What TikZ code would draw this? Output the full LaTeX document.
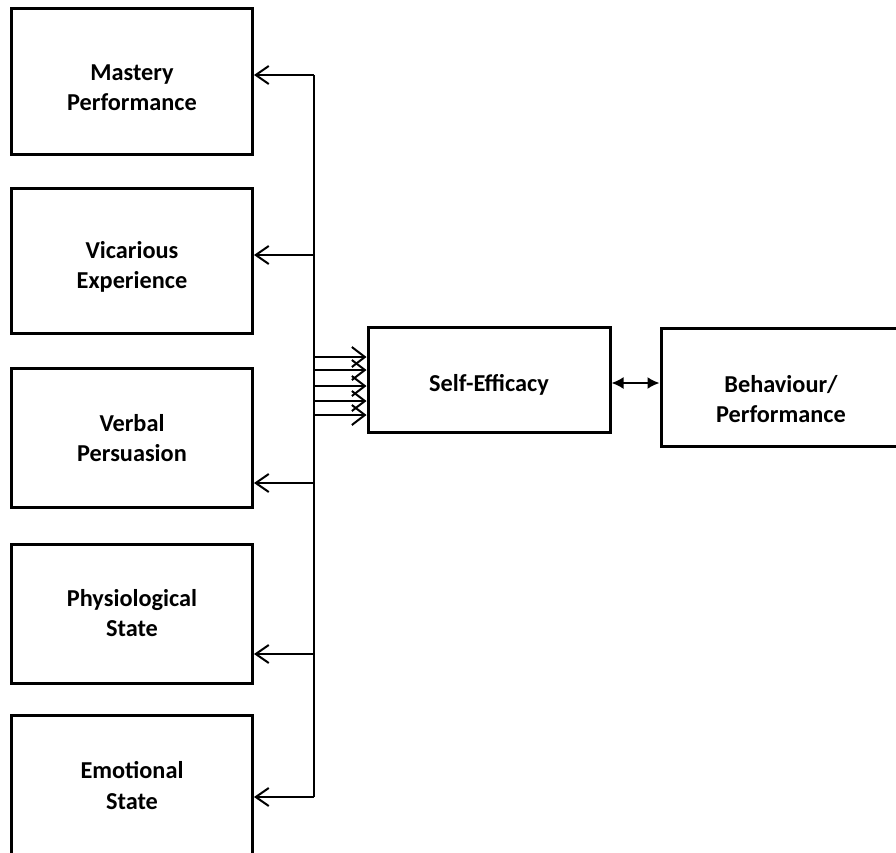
\documentclass[tikz,border=0pt]{standalone}
\usepackage{fontspec}
\setmainfont{Carlito}
\usetikzlibrary{arrows.meta}
% box label: the strut height #1 sets how low the lines sit in the box
\newcommand\boxtext[2]{\begin{tabular}{@{}c@{}}\rule{0pt}{#1}#2\end{tabular}}
\begin{document}
\begin{tikzpicture}[x=1bp,y=-1bp,
  box/.style={draw=black, line width=3bp, fill=white,
    font=\bfseries\fontsize{24.3bp}{30.5bp}\selectfont, inner sep=0pt},
  leftbox/.style={box, minimum width=241bp},
  wire/.style={draw=black, line width=2bp},
  openarrow/.style={wire, -{Straight Barb[length=13bp, width=18bp, line width=2bp]}},
  fanarrow/.style={wire, -{Straight Barb[length=13bp, width=20bp, line width=2bp]}},
  linkarrow/.style={wire, {Latex[length=12bp, width=12bp]}-{Latex[length=12bp, width=12bp]}}]
  \useasboundingbox (0,0) rectangle (896,853);

  % source boxes on the left
  \node[leftbox, minimum height=145bp] (mastery) at (132,81.5)  {\boxtext{37bp}{Mastery\\Performance}};
  \node[leftbox, minimum height=145bp] (vicar)   at (132,260.5) {\boxtext{35bp}{Vicarious\\Experience}};
  \node[leftbox, minimum height=139bp] (verbal)  at (132,437.5) {\boxtext{27bp}{Verbal\\Persuasion}};
  \node[leftbox, minimum height=139bp] (physio)  at (132,613.5) {\boxtext{25bp}{Physiological\\State}};
  \node[leftbox, minimum height=145bp] (emotion) at (132,787.5) {\boxtext{22bp}{Emotional\\State}};

  % central and outcome boxes
  \node[box, minimum width=242bp, minimum height=105bp] (self) at (489,379.5) {\boxtext{33bp}{Self-Efficacy}};
  \node[box, minimum width=240bp, minimum height=118bp] (behav) at (781,387) {\boxtext{50bp}{Behaviour/\\Performance}};

  % vertical trunk and its taps
  \coordinate (t1) at (314,75);
  \coordinate (t2) at (314,255);
  \coordinate (t3) at (314,483);
  \coordinate (t4) at (314,654);
  \coordinate (t5) at (314,797);
  \draw[wire] (t1) -- (t5);

  \draw[openarrow] (t1) -- (mastery.east |- t1);
  \draw[openarrow] (t2) -- (vicar.east |- t2);
  \draw[openarrow] (t3) -- (verbal.east |- t3);
  \draw[openarrow] (t4) -- (physio.east |- t4);
  \draw[openarrow] (t5) -- (emotion.east |- t5);

  % fan of arrows into Self-Efficacy
  \foreach \yy [count=\i] in {357,370,386,401,415}{
    \coordinate (f\i) at (314,\yy);
    \draw[fanarrow] (f\i) -- (self.west |- f\i);
  }

  % two-way link
  \coordinate (lk) at (612,383);
  \draw[linkarrow] (self.east |- lk) -- (behav.west |- lk);
\end{tikzpicture}
\end{document}
